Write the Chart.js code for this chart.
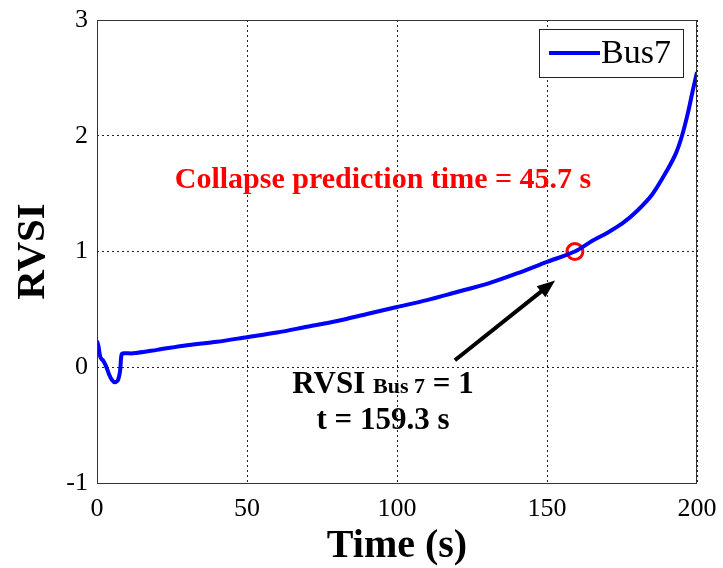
<!DOCTYPE html>
<html>
<head>
<meta charset="utf-8">
<script src="https://cdn.jsdelivr.net/npm/chart.js@4.4.0/dist/chart.umd.min.js"></script>
<style>
  html, body { margin: 0; padding: 0; background: #fff; }
  #wrap { width: 723px; height: 568px; }
</style>
</head>
<body>
<div id="wrap"><canvas id="rvsi-chart" width="723" height="568"></canvas></div>
<script>
// time (s) and RVSI of bus 7
const timeValues = [0, 0.5, 1, 1.5, 2, 3, 4, 5, 6, 7, 7.7, 8.2, 9, 12, 20, 30, 40, 50, 60, 70, 80, 90, 100, 110, 120, 130, 140, 150, 159.3, 165, 170, 175, 180, 185, 190, 193, 195, 197, 198.5, 200];
const rvsiValues = [0.23, 0.18, 0.10, 0.07, 0.06, 0.01, -0.06, -0.11, -0.13, -0.11, -0.03, 0.11, 0.12, 0.12, 0.15, 0.19, 0.22, 0.26, 0.30, 0.35, 0.40, 0.46, 0.52, 0.58, 0.65, 0.72, 0.81, 0.91, 1.0, 1.09, 1.16, 1.24, 1.35, 1.49, 1.70, 1.85, 2.0, 2.2, 2.38, 2.55];
const xTicks = [0, 50, 100, 150, 200];
const yTicks = [-1, 0, 1, 2, 3];
const seriesName = "Bus7";
const collapsePoint = { x: 159.3, y: 1 };

const serif = "'Liberation Serif', 'Times New Roman', serif";

// extra drawing: box, legend, arrow, text notes
const extras = {
  id: "extras",
  afterDraw(chart) {
    const ctx = chart.ctx;
    const a = chart.chartArea;
    const xs = chart.scales.x, ys = chart.scales.y;
    ctx.save();
    // plot box
    ctx.strokeStyle = "#333";
    ctx.lineWidth = 1;
    ctx.strokeRect(a.left + 0.5, a.top + 0.5, a.right - a.left - 1, a.bottom - a.top);

    // legend box
    ctx.fillStyle = "#fff";
    ctx.fillRect(539, 29, 144, 48);
    ctx.strokeStyle = "#222";
    ctx.strokeRect(539.5, 29.5, 144, 48);
    ctx.strokeStyle = "#0000ff";
    ctx.lineWidth = 4;
    ctx.beginPath();
    ctx.moveTo(549, 53);
    ctx.lineTo(600, 53);
    ctx.stroke();
    ctx.fillStyle = "#000";
    ctx.font = "34px " + serif;
    ctx.textBaseline = "middle";
    ctx.textAlign = "left";
    ctx.fillText(seriesName, 601, 54);

    // arrow
    const x0 = xs.getPixelForValue(119.3), y0 = ys.getPixelForValue(0.06);
    const x1 = xs.getPixelForValue(152.7), y1 = ys.getPixelForValue(0.75);
    const ang = Math.atan2(y1 - y0, x1 - x0);
    ctx.strokeStyle = "#000";
    ctx.fillStyle = "#000";
    ctx.lineWidth = 4;
    ctx.beginPath();
    ctx.moveTo(x0, y0);
    ctx.lineTo(x1 - 12 * Math.cos(ang), y1 - 12 * Math.sin(ang));
    ctx.stroke();
    ctx.beginPath();
    ctx.moveTo(x1, y1);
    ctx.lineTo(x1 - 18 * Math.cos(ang) + 7 * Math.sin(ang), y1 - 18 * Math.sin(ang) - 7 * Math.cos(ang));
    ctx.lineTo(x1 - 18 * Math.cos(ang) - 7 * Math.sin(ang), y1 - 18 * Math.sin(ang) + 7 * Math.cos(ang));
    ctx.closePath();
    ctx.fill();

    // red note
    ctx.fillStyle = "#ff0000";
    ctx.font = "bold 30px " + serif;
    ctx.textAlign = "center";
    ctx.textBaseline = "alphabetic";
    ctx.fillText("Collapse prediction time = 45.7 s", 383, 188);

    // black note
    ctx.fillStyle = "#000";
    ctx.textAlign = "left";
    const big = "bold 31px " + serif, small = "bold 22px " + serif;
    const parts = [["RVSI ", big], ["Bus 7", small], [" = 1", big]];
    let w = 0;
    parts.forEach(p => { ctx.font = p[1]; w += ctx.measureText(p[0]).width; });
    let cx = 383 - w / 2;
    parts.forEach(p => { ctx.font = p[1]; ctx.fillText(p[0], cx, 393); cx += ctx.measureText(p[0]).width; });
    ctx.font = big;
    ctx.textAlign = "center";
    ctx.fillText("t = 159.3 s", 383, 429);
    ctx.restore();
  }
};

const ctx = document.getElementById("rvsi-chart").getContext("2d");

const chart = new Chart(ctx, {
  type: "line",
  data: {
    datasets: [
      {
        label: seriesName,
        data: timeValues.map((t, i) => ({ x: t, y: rvsiValues[i] })),
        borderColor: "#0000ff",
        borderWidth: 4,
        pointRadius: 0,
        tension: 0.3,
        fill: false
      },
      {
        label: "collapse",
        data: [collapsePoint],
        showLine: false,
        pointRadius: 8,
        pointBorderWidth: 3,
        pointBorderColor: "#ff0000",
        pointBackgroundColor: "rgba(0,0,0,0)"
      }
    ]
  },
  options: {
    responsive: false,
    animation: false,
    layout: { padding: { left: 0, right: 26, top: 20, bottom: 0 } },
    scales: {
      x: {
        type: "linear",
        min: 0,
        max: 200,
        afterFit: s => { s.height = 85; s.paddingLeft = 0; s.paddingRight = 0; },
        afterBuildTicks: s => { s.ticks = xTicks.map(v => ({ value: v })); },
        grid: { color: "#222", lineWidth: 1, drawTicks: false },
        border: { display: false, dash: [2, 3] },
        ticks: { color: "#000", font: { family: serif, size: 26 }, padding: 11, maxRotation: 0 },
        title: { display: true, text: "Time (s)", color: "#000", font: { family: serif, size: 40, weight: "bold", lineHeight: 1.05 }, padding: { top: 0, bottom: 0 } }
      },
      y: {
        min: -1,
        max: 3,
        afterFit: s => { s.width = 97; s.paddingTop = 0; s.paddingBottom = 0; },
        afterBuildTicks: s => { s.ticks = yTicks.map(v => ({ value: v })); },
        grid: { color: "#222", lineWidth: 1, drawTicks: false },
        border: { display: false, dash: [2, 3] },
        ticks: { color: "#000", font: { family: serif, size: 26 }, padding: 9 },
        title: { display: true, text: "RVSI", color: "#000", font: { family: serif, size: 41, weight: "bold" }, padding: { top: 9, bottom: 0 } }
      }
    },
    plugins: {
      legend: { display: false },
      tooltip: { enabled: false }
    }
  },
  plugins: [extras]
});
</script>
</body>
</html>
